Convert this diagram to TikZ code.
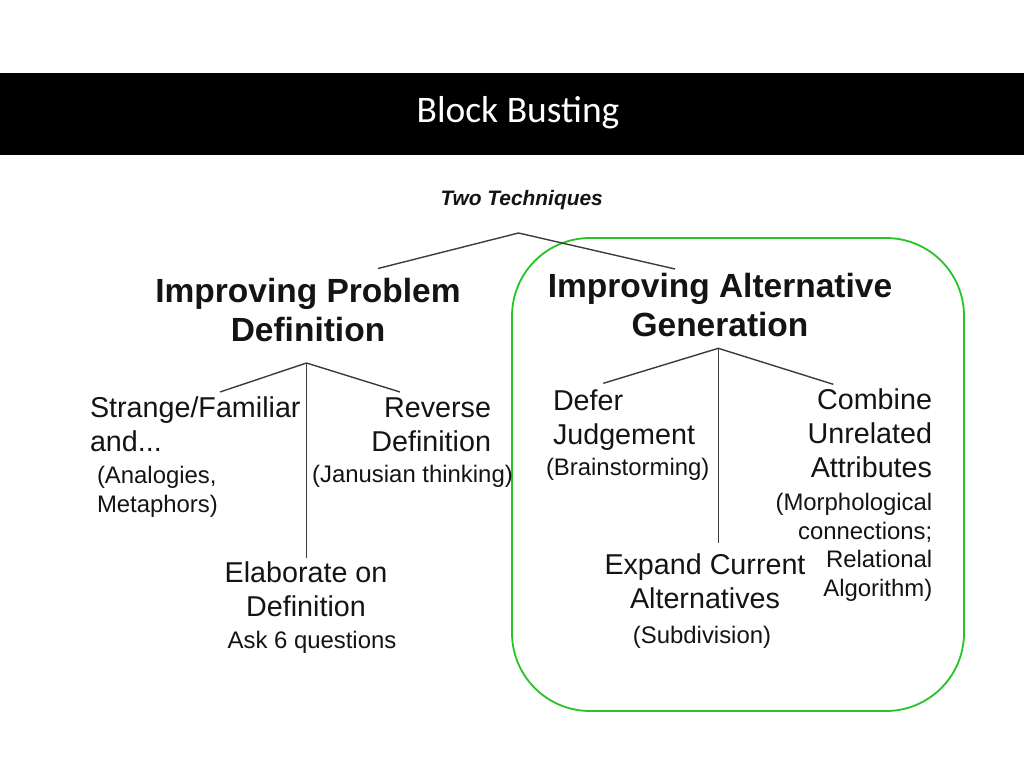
\documentclass[tikz,border=0pt]{standalone}
\usepackage{fontspec}
\setmainfont{Liberation Sans}
\newfontfamily\calibri{Carlito}
\definecolor{boxgreen}{RGB}{38,196,38}
\definecolor{linegray}{RGB}{60,60,60}
\definecolor{ink}{RGB}{20,20,20}
\begin{document}
\begin{tikzpicture}[x=1pt,y=-1pt,
  every node/.style={inner sep=0pt, outer sep=0pt, text=ink},
  branch/.style={draw=linegray, line width=1.4pt},
  greenbox/.style={draw=boxgreen, line width=1.8pt, rounded corners=78pt},
  titletext/.style={text=white, font=\calibri\fontsize{37.5}{40}\selectfont},
  subtitle/.style={font=\bfseries\itshape\fontsize{20.9}{24}\selectfont},
  head/.style={font=\bfseries\fontsize{33.5}{39.3}\selectfont, align=center},
  body/.style={font=\fontsize{28.7}{34}\selectfont},
  note/.style={font=\fontsize{23.9}{28.8}\selectfont},
]
\useasboundingbox (0,0) rectangle (1024,768);
\fill[white] (0,0) rectangle (1024,768);
\fill[black] (0,73) rectangle (1024,155);
\node[titletext, anchor=base] (title) at (518,122) {Block Busting};

\node[subtitle, anchor=base] (two) at (521.7,205) {Two Techniques};

% green frame
\draw[greenbox] (512,238) rectangle (964,711);

% headings (anchor = baseline of the last line)
\node[head, anchor=base] (ipd) at (308,341.7) {Improving Problem\\Definition};
\node[head, anchor=base] (iag) at (720,336.7) {Improving Alternative\\Generation};

% top connectors
\coordinate (top) at (518.5,233);
\coordinate (topL) at (378,268.5);
\coordinate (topR) at (675,269);
\draw[branch] (topL) -- (top) -- (topR);

% left subtree
\coordinate (pA) at (306.5,363);
\coordinate (pL) at (220,392);
\coordinate (pR) at (400,392);
\coordinate (pD) at (306.5,558);
\draw[branch] (pL) -- (pA) -- (pR);
\draw[branch] (pA) -- (pD);

\node[body, align=left, anchor=base west] (sf) at (90,451.7) {Strange/Familiar\\and...};
\node[note, align=left, anchor=base west] (an) at (97,512) {(Analogies,\\Metaphors)};
\node[body, align=right, anchor=base east] (rd) at (491,451.7) {Reverse\\Definition};
\node[note, anchor=base] (jt) at (412.5,482) {(Janusian thinking)};
\node[body, align=center, anchor=base] (ed) at (306,616) {Elaborate on\\Definition};
\node[note, anchor=base] (aq) at (312,648) {Ask 6 questions};

% right subtree
\coordinate (aA) at (718.3,348.3);
\coordinate (aL) at (603.3,383.3);
\coordinate (aR) at (833.3,384.3);
\coordinate (aD) at (718.3,543.3);
\draw[branch] (aL) -- (aA) -- (aR);
\draw[branch] (aA) -- (aD);

\node[body, align=left, anchor=base west] (dj) at (553,444) {Defer\\Judgement};
\node[note, anchor=base west] (bs) at (546,475.5) {(Brainstorming)};
\node[body, align=right, anchor=base east] (cu) at (932,477.3) {Combine\\Unrelated\\Attributes};
\node[note, align=right, anchor=base east] (mc) at (932.3,596.7) {(Morphological\\connections;\\Relational\\Algorithm)};
\node[body, align=center, anchor=base] (ec) at (705,608.3) {Expand Current\\Alternatives};
\node[note, anchor=base] (sd) at (702,643) {(Subdivision)};
\end{tikzpicture}
\end{document}
